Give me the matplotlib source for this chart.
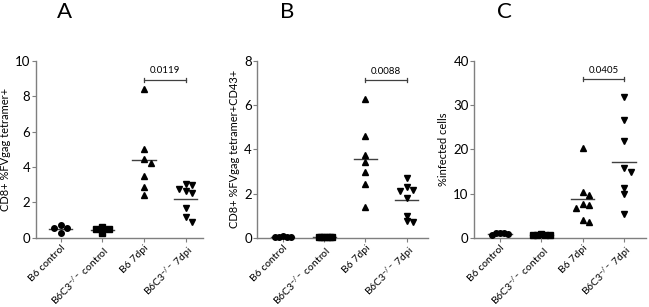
import matplotlib
matplotlib.use("Agg")
import matplotlib.pyplot as plt
import numpy as np

plt.rcParams['font.family'] = ['Lato', 'DejaVu Sans']
plt.rcParams['mathtext.fontset'] = 'custom'
plt.rcParams['mathtext.rm'] = 'Lato'
plt.rcParams['mathtext.it'] = 'Lato'

categories = ["B6 control", r"B6C3$^{-/-}$ control", "B6 7dpi", r"B6C3$^{-/-}$ 7dpi"]
markers = ["o", "s", "^", "v"]

# Panel A: CD8+ %FVgag tetramer+
a_b6_ctrl = [0.72, 0.55, 0.53, 0.28]
a_ko_ctrl = [0.62, 0.48, 0.47, 0.25]
a_b6_7dpi = [8.4, 5.0, 4.45, 4.25, 3.5, 2.85, 2.4]
a_ko_7dpi = [3.02, 3.0, 2.74, 2.64, 2.51, 1.66, 1.19, 0.91]
a_p = "0.0119"

# Panel B: CD8+ %FVgag tetramer+CD43+
b_b6_ctrl = [0.06, 0.04, 0.03, 0.02, 0.05]
b_ko_ctrl = [0.05, 0.04, 0.03, 0.03, 0.02, 0.01]
b_b6_7dpi = [6.27, 4.6, 3.74, 3.44, 2.99, 2.42, 1.40]
b_ko_7dpi = [2.69, 2.28, 2.16, 2.13, 1.81, 1.0, 0.77, 0.70]
b_p = "0.0088"

# Panel C: %infected cells
c_b6_ctrl = [1.1, 1.0, 1.0, 0.8, 0.7]
c_ko_ctrl = [0.8, 0.7, 0.7, 0.6, 0.6]
c_b6_7dpi = [20.2, 10.4, 9.6, 7.6, 7.4, 6.8, 4.0, 3.5]
c_ko_7dpi = [31.9, 26.6, 22.0, 15.7, 14.9, 11.3, 9.8, 5.3]
c_p = "0.0405"

panels = [
    ("A", "CD8+ %FVgag tetramer+", [a_b6_ctrl, a_ko_ctrl, a_b6_7dpi, a_ko_7dpi], a_p,
     10, [0, 2, 4, 6, 8, 10], 8.93, [0.0555, 0.2257, 0.2573, 0.5756], (-0.59, 3.42)),
    ("B", "CD8+ %FVgag tetramer+CD43+", [b_b6_ctrl, b_ko_ctrl, b_b6_7dpi, b_ko_7dpi], b_p,
     8, [0, 2, 4, 6, 8], 7.14, [0.3965, 0.2257, 0.263, 0.5756], (-0.62, 3.52)),
    ("C", "%infected cells", [c_b6_ctrl, c_ko_ctrl, c_b6_7dpi, c_ko_7dpi], c_p,
     40, [0, 10, 20, 30, 40], 35.9, [0.7308, 0.2257, 0.2646, 0.5756], (-0.62, 3.53)),
]


def swarm(vals, ymax, step=0.16, dy_px=5.0, height_px=176.0, max_half=0.2):
    """Simple beeswarm: place points (in given order) avoiding overlaps."""
    vals = np.asarray(vals, dtype=float)
    thr = dy_px / height_px * ymax
    placed = []
    offs = np.zeros(len(vals))
    for i, v in enumerate(vals):
        for cand in [0, step, -step, 2 * step, -2 * step, 3 * step, -3 * step]:
            ok = all(not (abs(v - pv) < thr and abs(cand - po) < step * 0.9)
                     for pv, po in placed)
            if ok:
                offs[i] = cand
                placed.append((v, cand))
                break
    m = np.abs(offs).max()
    if m > max_half:
        offs = offs * (max_half / m)
    return offs


fig = plt.figure(figsize=(6.49, 3.07), dpi=100)
spine_col = "#7f7f7f"
for letter, ylabel, groups, p, ymax, yticks, ybr, pos, xlim in panels:
    ax = fig.add_axes(pos)
    for i, (vals, m) in enumerate(zip(groups, markers)):
        offs = swarm(vals, ymax)
        ax.plot(i + offs, vals, linestyle="none", marker=m, color="black",
                markersize=4, clip_on=False, zorder=3)
        mean = np.mean(vals)
        ax.plot([i - 0.28, i + 0.28], [mean, mean], color="#404040", lw=1.0, zorder=2)
    ax.set_xlim(*xlim)
    ax.set_ylim(0, ymax)
    ax.set_yticks(yticks)
    ax.set_xticks(range(4))
    ax.set_xticklabels(categories, rotation=45, ha="right", rotation_mode="anchor",
                       fontsize=7.5)
    ax.tick_params(axis="y", labelsize=9.5, direction="out", length=3, color=spine_col, pad=1)
    ax.tick_params(axis="x", direction="out", length=3, color=spine_col, pad=1)
    for s in ["top", "right"]:
        ax.spines[s].set_visible(False)
    for s in ["left", "bottom"]:
        ax.spines[s].set_color(spine_col)
        ax.spines[s].set_linewidth(1.0)
    ax.set_ylabel(ylabel, fontsize=8, labelpad=3)
    # significance bracket
    cap = ymax * 0.012
    ax.plot([2, 3], [ybr, ybr], color="#404040", lw=0.9, clip_on=False)
    ax.plot([2, 2], [ybr - cap, ybr + cap], color="#404040", lw=0.9, clip_on=False)
    ax.plot([3, 3], [ybr - cap, ybr + cap], color="#404040", lw=0.9, clip_on=False)
    ax.text(2.5, ybr + ymax * 0.025, p, ha="center", va="bottom", fontsize=7)
    ax.text(0.1, ymax * 1.28, letter, ha="center", va="center", fontsize=16)

fig.savefig("out.png", dpi=100)
